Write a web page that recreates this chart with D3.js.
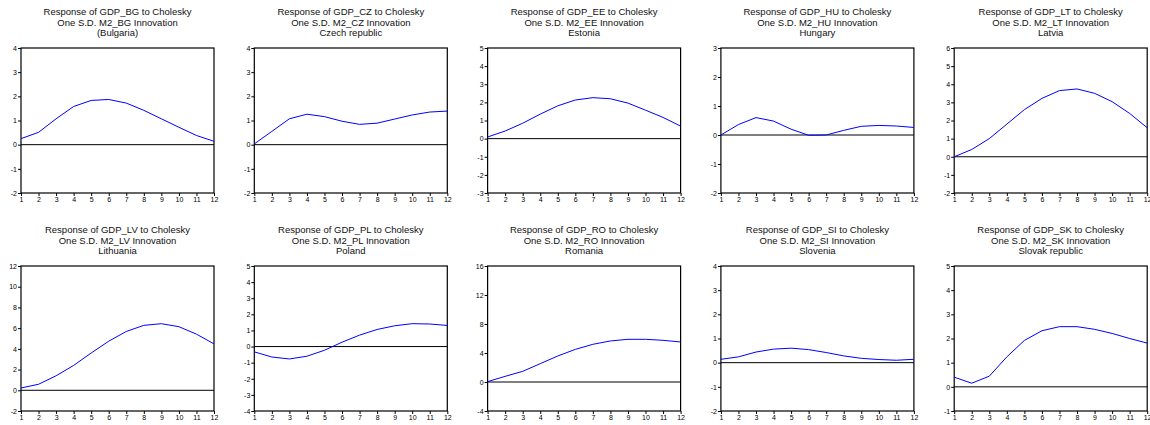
<!DOCTYPE html>
<html lang="en">
<head>
<meta charset="utf-8">
<title>Impulse responses of GDP to M2</title>
<script src="https://d3js.org/d3.v7.min.js"></script>
<style>
  body { margin: 0; background: #fff; }
  svg { display: block; font-family: "Liberation Sans", Arial, sans-serif; }
  .title { font-size: 9.5px; fill: #111; }
  .tick text { font-size: 7px; fill: #000; }
  .tick line, .domain { stroke: #000; }
</style>
</head>
<body>
<script>
  // periods on x axis
  let periods = [1, 2, 3, 4, 5, 6, 7, 8, 9, 10, 11, 12]

  let codes = ["BG", "CZ", "EE", "HU", "LT", "LV", "PL", "RO", "SI", "SK"]
  let countries = ["(Bulgaria)", "Czech republic", "Estonia", "Hungary", "Latvia",
                   "Lithuania", "Poland", "Romania", "Slovenia", "Slovak republic"]

  // response values
  let respBG = [0.25, 0.51, 1.07, 1.58, 1.83, 1.87, 1.72, 1.42, 1.07, 0.72, 0.38, 0.14]
  let respCZ = [0.03, 0.55, 1.07, 1.26, 1.16, 0.97, 0.84, 0.89, 1.06, 1.23, 1.35, 1.39]
  let respEE = [0.09, 0.42, 0.85, 1.35, 1.81, 2.13, 2.26, 2.20, 1.96, 1.57, 1.17, 0.69]
  let respHU = [0.0, 0.36, 0.60, 0.48, 0.20, -0.01, 0.0, 0.16, 0.30, 0.33, 0.31, 0.26]
  let respLT = [0.0, 0.40, 1.00, 1.80, 2.60, 3.22, 3.65, 3.74, 3.50, 3.04, 2.39, 1.60]
  let respLV = [0.22, 0.58, 1.40, 2.40, 3.60, 4.74, 5.68, 6.27, 6.43, 6.14, 5.42, 4.48]
  let respPL = [-0.33, -0.65, -0.77, -0.60, -0.23, 0.27, 0.71, 1.06, 1.29, 1.42, 1.40, 1.31]
  let respRO = [0.05, 0.78, 1.47, 2.53, 3.59, 4.50, 5.20, 5.66, 5.89, 5.89, 5.75, 5.52]
  let respSI = [0.14, 0.24, 0.44, 0.56, 0.60, 0.54, 0.42, 0.28, 0.18, 0.13, 0.10, 0.14]
  let respSK = [0.40, 0.15, 0.44, 1.24, 1.92, 2.32, 2.49, 2.49, 2.38, 2.21, 2.00, 1.81]
  let responses = [respBG, respCZ, respEE, respHU, respLT, respLV, respPL, respRO, respSI, respSK]

  // y axis tick labels of each panel
  let yTicks = [
    [-2, -1, 0, 1, 2, 3, 4],
    [-2, -1, 0, 1, 2, 3, 4],
    [-3, -2, -1, 0, 1, 2, 3, 4, 5],
    [-2, -1, 0, 1, 2, 3],
    [-2, -1, 0, 1, 2, 3, 4, 5, 6],
    [-2, 0, 2, 4, 6, 8, 10, 12],
    [-4, -3, -2, -1, 0, 1, 2, 3, 4, 5],
    [-4, 0, 4, 8, 12, 16],
    [-2, -1, 0, 1, 2, 3, 4],
    [-1, 0, 1, 2, 3, 4, 5]
  ]

  let width = 1150
  let height = 425
  let plotW = 193
  let plotH = 145
  let colStep = 233.3
  let rowTops = [48, 266]
  let leftPad = 21

  let svg = d3.select("body").append("svg")
              .attr("width", width)
              .attr("height", height)

  let drawPanel = (i) => {
    let col = i % 5
    let row = Math.floor(i / 5)
    let g = svg.append("g")
               .attr("transform", `translate(${leftPad + col * colStep}, ${rowTops[row]})`)

    let ticks = yTicks[i]
    let xScale = d3.scaleLinear().domain([1, 12]).range([0, plotW])
    let yScale = d3.scaleLinear().domain([ticks[0], ticks[ticks.length - 1]]).range([plotH, 0])

    let titles = [`Response of GDP_${codes[i]} to Cholesky`,
                  `One S.D. M2_${codes[i]} Innovation`,
                  countries[i]]
    g.selectAll(".title")
      .data(titles)
      .enter()
      .append("text")
      .attr("class", "title")
      .attr("x", plotW / 2)
      .attr("y", (d, k) => -33 + k * 10.5)
      .attr("text-anchor", "middle")
      .text(d => d)

    g.append("g")
      .attr("transform", `translate(0, ${plotH})`)
      .call(d3.axisBottom(xScale).tickValues(periods).tickSize(3).tickPadding(1).tickFormat(d => d))

    g.append("g")
      .call(d3.axisLeft(yScale).tickValues(ticks).tickSize(3).tickPadding(1).tickFormat(d => String(d)))

    g.selectAll(".domain").remove()

    // frame
    g.append("rect")
      .attr("x", 0).attr("y", 0)
      .attr("width", plotW).attr("height", plotH)
      .attr("fill", "none")
      .attr("stroke", "#000")
      .attr("stroke-width", 1.2)

    // zero line
    g.append("line")
      .attr("x1", 0).attr("x2", plotW)
      .attr("y1", yScale(0)).attr("y2", yScale(0))
      .attr("stroke", "#000")
      .attr("stroke-width", 1)

    let line = d3.line()
                 .x((d, k) => xScale(periods[k]))
                 .y(d => yScale(d))

    g.append("path")
      .datum(responses[i])
      .attr("d", line)
      .attr("fill", "none")
      .attr("stroke", "#0000ff")
      .attr("stroke-width", 1)
  }

  for (let i = 0; i < responses.length; i++) drawPanel(i)
</script>
</body>
</html>
